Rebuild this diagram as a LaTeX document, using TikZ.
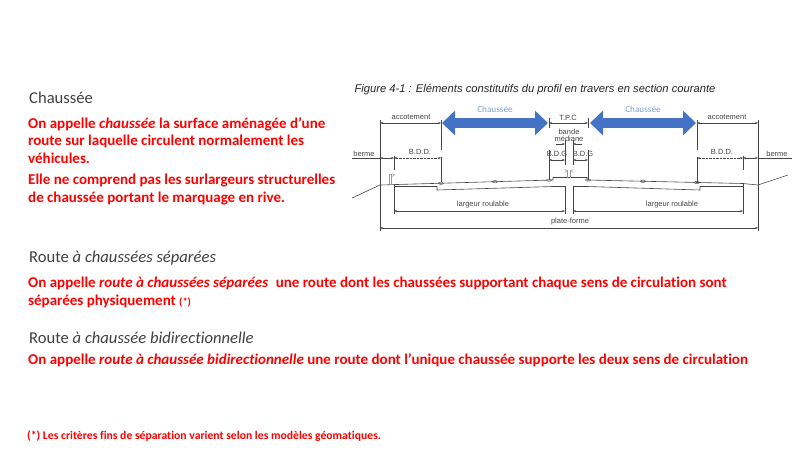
\documentclass[tikz,border=0pt]{standalone}
\usepackage{fontspec}
\setmainfont{Carlito}[Ligatures=CommonOff]
\newfontfamily\figfont{Liberation Sans}
\usetikzlibrary{arrows.meta, positioning, calc}
\definecolor{headgray}{RGB}{64,64,64}
\definecolor{figgray}{RGB}{70,70,70}
\definecolor{voieblue}{RGB}{68,114,196}
\definecolor{lightblue}{RGB}{125,160,212}
\tikzset{
    head/.style = {anchor=west, inner sep=0pt, text=headgray, font=\fontsize{16.6}{19}\selectfont},
    para/.style = {anchor=north west, inner sep=0pt, align=left, text=red, font=\fontsize{15}{17.5}\selectfont\bfseries},
    lbl/.style = {inner sep=0pt, text=figgray, font=\figfont\fontsize{7.5}{8.5}\selectfont},
    cota/.style = {draw=figgray, line width=0.4pt, {Stealth[length=3pt,width=2.2pt]}-{Stealth[length=3pt,width=2.2pt]}},
    fleche/.style = {draw=figgray, line width=0.4pt, -{Stealth[length=3pt,width=2.2pt]}},
    trait/.style = {draw=figgray, line width=0.6pt},
    glis/.style = {draw=black!40, line width=0.5pt},
    voie/.style = {draw=voieblue, line width=10pt, {Triangle[length=13pt,width=24pt]}-{Triangle[length=13pt,width=24pt]}}
}

\begin{document}
\begin{tikzpicture}[x=1pt, y=-1pt]
    \useasboundingbox (0,0) rectangle (800,450);
    % Textes
    \node [head] (chHead) at (29,98) {Chaussée};
    \node [para] (chPar) at (28,117) {On appelle \textit{chaussée} la surface aménagée d’une\\
        route sur laquelle circulent normalement les\\ véhicules.};
    \node [para] (chPar2) at (28,174) {Elle ne comprend pas les surlargeurs structurelles\\
        de chaussée portant le marquage en rive.};
    \node [head] (sepHead) at (29,258) {Route \textit{à chaussées séparées}};
    \node [para] (sepPar) at (28,277) {On appelle \textit{route à chaussées séparées}\enspace une route dont les chaussées supportant chaque sens de circulation sont\\
        séparées physiquement {\fontsize{10.5}{12}\selectfont(*)}};
    \node [head] (bidHead) at (29,338) {Route \textit{à chaussée bidirectionnelle}};
    \node [para] (bidPar) at (28,353) {On appelle \textit{route à chaussée bidirectionnelle} une route dont l’unique chaussée supporte les deux sens de circulation};
    \node [para, anchor=west, font=\fontsize{11.7}{13}\selectfont\bfseries] (note) at (27,436) {(*) Les critères fins de séparation varient selon les modèles géomatiques.};
    \node [inner sep=0pt, font=\figfont\itshape\fontsize{11.2}{13}\selectfont, text=black!85] (figTitle) at (535,90) {Figure 4-1 : Eléments constitutifs du profil en travers en section courante};
    % Colonnes
    \coordinate (pfL) at (380,0);
    \coordinate (bermeL) at (394,0);
    \coordinate (bddL) at (441,0);
    \coordinate (tpcL) at (549,0);
    \coordinate (midL) at (565,0);
    \coordinate (midR) at (573,0);
    \coordinate (tpcR) at (588,0);
    \coordinate (bddR) at (697,0);
    \coordinate (bermeR) at (743,0);
    \coordinate (pfR) at (758,0);
    % Traits verticaux
    \draw [trait] (pfL |- 0,120) -- (pfL |- 0,231);
    \draw [trait] (pfR |- 0,120) -- (pfR |- 0,231);
    \draw [trait] (bddL |- 0,120) -- (bddL |- 0,150);
    \draw [trait] (bddL |- 0,157) -- (bddL |- 0,182);
    \draw [trait] (bddR |- 0,120) -- (bddR |- 0,150);
    \draw [trait] (bddR |- 0,157) -- (bddR |- 0,182);
    \draw [trait] (tpcL |- 0,118) -- (tpcL |- 0,128);
    \draw [trait] (tpcL |- 0,150) -- (tpcL |- 0,180);
    \draw [trait] (tpcR |- 0,118) -- (tpcR |- 0,128);
    \draw [trait] (tpcR |- 0,150) -- (tpcR |- 0,180);
    \draw [trait] (midL |- 0,140) -- (midL |- 0,165);
    \draw [trait] (midR |- 0,140) -- (midR |- 0,165);
    \draw [trait] (midL |- 0,186) -- (midL |- 0,214);
    \draw [trait] (midR |- 0,186) -- (midR |- 0,214);
    \draw [trait] (bermeL |- 0,156) -- (bermeL |- 0,170);
    \draw [trait] (bermeL |- 0,184) -- (bermeL |- 0,214);
    \draw [trait] (bermeR |- 0,156) -- (bermeR |- 0,170);
    \draw [trait] (bermeR |- 0,183) -- (bermeR |- 0,214);
    % Chaussees
    \draw [voie, shorten <=1pt, shorten >=1pt] (bddL |- 0,123) -- (tpcL |- 0,123);
    \draw [voie, shorten <=2pt, shorten >=1pt] (tpcR |- 0,123) -- (bddR |- 0,123);
    \node [lbl, text=lightblue, font=\fontsize{9.2}{10}\selectfont] (chL) at (495,109) {Chaussée};
    \node [lbl, text=lightblue, font=\fontsize{9.2}{10}\selectfont] (chR) at (643,109) {Chaussée};
    % Cotes
    \draw [cota] (pfL |- 0,123) -- (bddL |- 0,123);
    \draw [cota] (tpcL |- 0,123) -- (tpcR |- 0,123);
    \draw [cota] (bddR |- 0,123) -- (pfR |- 0,123);
    \node [lbl] (accL) at (411,117.5) {accotement};
    \node [lbl] (tpc) at (568,118) {T.P.C};
    \node [lbl] (accR) at (727,117.5) {accotement};
    \draw [trait, line width=0.4pt] (352,158) -- (pfL |- 0,158);
    \draw [cota] (pfL |- 0,158) -- (bermeL |- 0,158);
    \draw [cota, densely dotted] (bermeL |- 0,158) -- (bddL |- 0,158);
    \draw [cota, densely dotted] (bddR |- 0,158) -- (bermeR |- 0,158);
    \draw [cota] (bermeR |- 0,158) -- (pfR |- 0,158);
    \draw [trait, line width=0.4pt] (pfR |- 0,158) -- (792,158);
    \node [lbl] (bermL) at (364,154) {berme};
    \node [lbl] (bddLl) at (420,152) {B.D.D.};
    \node [lbl] (bddRl) at (722,152) {B.D.D.};
    \node [lbl] (bermR) at (777,154) {berme};
    \node [lbl] (bande) at (569,132) {bande};
    \node [lbl] (mediane) at (569,139) {médiane};
    \draw [fleche] (556,144) -- (midL |- 0,144);
    \draw [fleche] (582,144) -- (midR |- 0,144);
    \draw [cota] (tpcL |- 0,160) -- (midL |- 0,160);
    \draw [cota] (midR |- 0,160) -- (tpcR |- 0,160);
    \node [lbl] (bdgL) at (557,154) {B.D.G};
    \node [lbl] (bdgR) at (583,154) {B.D.G};
    \draw [cota] (bermeL |- 0,211) -- (midL |- 0,211);
    \draw [cota] (midR |- 0,211) -- (bermeR |- 0,211);
    \draw [cota] (pfL |- 0,228) -- (pfR |- 0,228);
    \node [lbl] (lrL) at (483,205) {largeur roulable};
    \node [lbl] (lrR) at (672,205) {largeur roulable};
    \node [lbl] (pf) at (570,222) {plate-forme};
    % Profil
    \draw [trait] (352,198) -- (pfL |- 0,185) -- (553,180) -- (553,177.5) -- (587,177.5) -- (587,180)
        -- (bermeR |- 0,183.5) -- (pfR |- 0,185) -- (788,175);
    \draw [trait] (bermeL |- 0,186.5) -- (437,186.5) -- (437,190) -- (553,186.5) -- (midL |- 0,186.5);
    \draw [trait] (midR |- 0,186.5) -- (587,186.5) -- (700,190) -- (700,186.5) -- (bermeR |- 0,186.5);
    \draw [figgray, line width=0.4pt] (441,183.2) ellipse (2.5 and 1.2);
    \draw [figgray, line width=0.4pt] (495,181.7) ellipse (2.5 and 1.2);
    \draw [figgray, line width=0.4pt] (549,180.1) ellipse (2.5 and 1.2);
    \draw [figgray, line width=0.4pt] (588,180) ellipse (2.5 and 1.2);
    \draw [figgray, line width=0.4pt] (643,181.3) ellipse (2.5 and 1.2);
    \draw [figgray, line width=0.4pt] (697,182.5) ellipse (2.5 and 1.2);
    % Glissieres
    \draw [glis] (389,184.5) -- (389,174.5) -- (391.5,174.5) -- (391.5,184.5);
    \draw [glis] (392,173.5) -- (394.5,175) -- (392,176.5);
    \draw [glis] (567.5,177.5) -- (567.5,170.5) (570.5,177.5) -- (570.5,170.5);
    \draw [glis] (564.5,169.5) -- (567.5,170.5) -- (564.5,172.5);
    \draw [glis] (573.5,169.5) -- (570.5,170.5) -- (573.5,172.5);
\end{tikzpicture}
\end{document}
